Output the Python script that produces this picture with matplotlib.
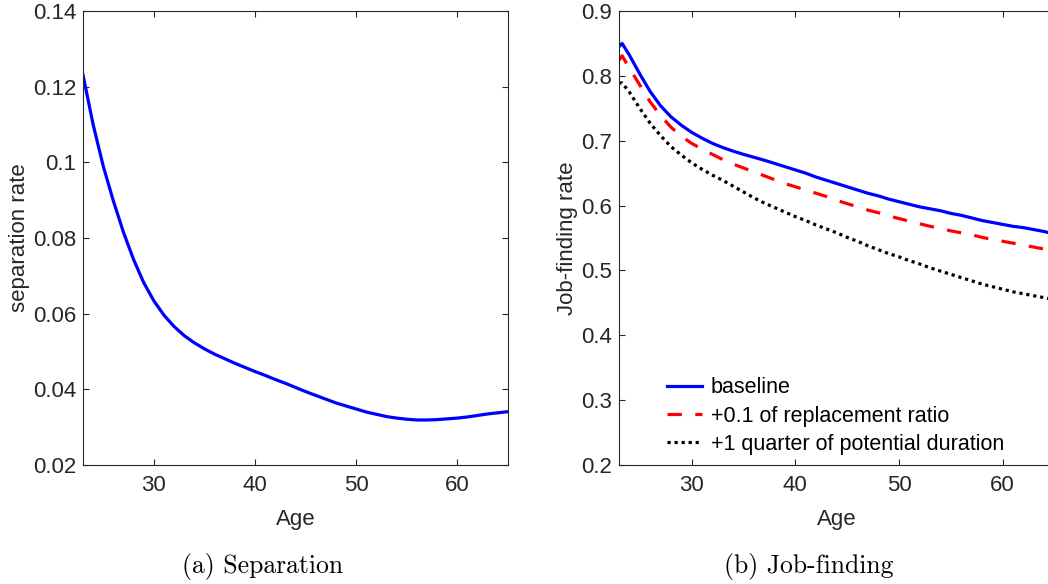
import matplotlib
matplotlib.use("Agg")
import matplotlib.pyplot as plt

plt.rcParams['font.family'] = ['Liberation Sans', 'DejaVu Sans']

# separation rate by age
age_sep = list(range(23, 66))
sep_rate = [0.1231, 0.1100, 0.0990, 0.0898, 0.0815, 0.0743, 0.0682, 0.0634, 0.0596, 0.0566,
            0.0542, 0.0523, 0.0507, 0.0493, 0.0481, 0.0469, 0.0458, 0.0447, 0.0437, 0.0426,
            0.0416, 0.0405, 0.0394, 0.0384, 0.0374, 0.0364, 0.0356, 0.0348, 0.0340, 0.0334,
            0.0328, 0.0324, 0.0321, 0.0319, 0.0319, 0.0320, 0.0322, 0.0324, 0.0327, 0.0331,
            0.0335, 0.0338, 0.0341]

# job-finding rate by age
age_jf = [23, 23.3] + list(range(24, 66))
jf_base = [0.845, 0.850, 0.832, 0.803, 0.776, 0.754, 0.737, 0.724, 0.713, 0.704, 0.696,
           0.6895, 0.684, 0.679, 0.6745, 0.670, 0.665, 0.660, 0.655, 0.650, 0.644, 0.639,
           0.634, 0.629, 0.624, 0.619, 0.615, 0.610, 0.606, 0.602, 0.598, 0.595, 0.592,
           0.588, 0.585, 0.581, 0.577, 0.574, 0.571, 0.568, 0.566, 0.563, 0.560, 0.556]
jf_repl = [0.824, 0.831, 0.812, 0.786, 0.760, 0.739, 0.721, 0.707, 0.696, 0.687, 0.679,
           0.671, 0.664, 0.658, 0.652, 0.646, 0.640, 0.634, 0.629, 0.624, 0.619, 0.614,
           0.608, 0.603, 0.598, 0.593, 0.589, 0.584, 0.580, 0.576, 0.572, 0.568, 0.565,
           0.561, 0.558, 0.555, 0.551, 0.548, 0.545, 0.542, 0.539, 0.536, 0.533, 0.529]
jf_dur = [0.789, 0.789, 0.775, 0.750, 0.727, 0.708, 0.691, 0.678, 0.666, 0.656, 0.647,
          0.639, 0.630, 0.621, 0.612, 0.604, 0.597, 0.590, 0.583, 0.577, 0.570, 0.564,
          0.558, 0.551, 0.545, 0.538, 0.532, 0.526, 0.521, 0.515, 0.510, 0.504, 0.499,
          0.494, 0.489, 0.484, 0.479, 0.475, 0.471, 0.467, 0.464, 0.461, 0.458, 0.455]

sep_ticks = [0.02, 0.04, 0.06, 0.08, 0.1, 0.12, 0.14]
jf_ticks = [0.2, 0.3, 0.4, 0.5, 0.6, 0.7, 0.8, 0.9]
x_ticks = [30, 40, 50, 60]

W, H = 1048, 584
fig = plt.figure(figsize=(W / 100, H / 100), dpi=100)
ax1 = fig.add_axes([83 / W, (H - 465) / H, 425 / W, 454 / H])
ax2 = fig.add_axes([619 / W, (H - 465) / H, 435.5 / W, 454 / H])

dark = '#262626'
for ax in (ax1, ax2):
    ax.tick_params(direction='in', top=True, right=True, length=4, width=0.8,
                   labelsize=16, colors=dark)
    ax.tick_params(axis='x', pad=7)
    ax.tick_params(axis='y', pad=5)
    for s in ax.spines.values():
        s.set_color(dark)
        s.set_linewidth(0.8)
    ax.set_xlim(23, 65)
    ax.set_xticks(x_ticks)
    ax.set_xlabel('Age', fontsize=16, color=dark, labelpad=9.5)

ax1.plot(age_sep, sep_rate, color='#0000ff', lw=2.3)
ax1.set_ylim(0.02, 0.14)
ax1.set_yticks(sep_ticks)
ax1.set_yticklabels([f'{t:g}' for t in sep_ticks])
ax1.set_ylabel('separation rate', fontsize=16, color=dark, labelpad=2)

ax2.plot(age_jf, jf_base, color='#0000ff', lw=2.3, label='baseline')
ax2.plot(age_jf, jf_repl, color='#ff0000', lw=2.3, dashes=(4.5, 4.2),
         label='+0.1 of replacement ratio')
ax2.plot(age_jf, jf_dur, color='black', lw=2.3, dashes=(1, 1.2),
         label='+1 quarter of potential duration')
ax2.set_ylim(0.2, 0.9)
ax2.set_yticks(jf_ticks)
ax2.set_yticklabels([f'{t:g}' for t in jf_ticks])
ax2.set_ylabel('Job-finding rate', fontsize=16, color=dark, labelpad=2)
ax2.legend(loc='lower left', bbox_to_anchor=(0.110, 0.022), frameon=False,
           borderpad=0, borderaxespad=0, fontsize=15.5, handlelength=1.63,
           handletextpad=0.42, labelspacing=0.34)

fig.text(263 / W, 1 - 567 / H, '(a) Separation', family='cmr10', fontsize=18.5,
         ha='center', va='center')
fig.text(809 / W, 1 - 566 / H, '(b) Job-finding', family='cmr10', fontsize=18.5,
         ha='center', va='center')

fig.savefig('out.png', dpi=100)
